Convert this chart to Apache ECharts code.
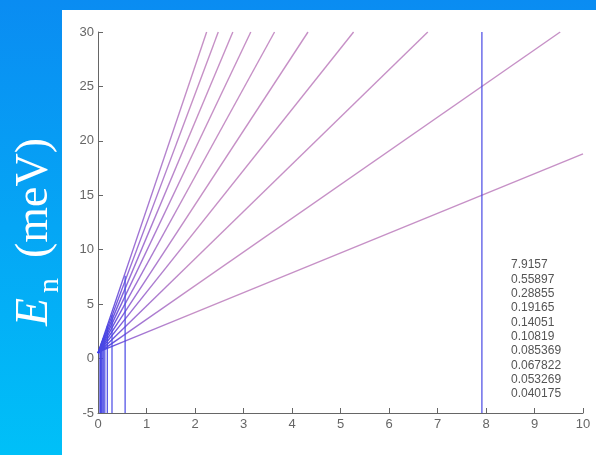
<!DOCTYPE html>
<html>
<head>
<meta charset="UTF-8">
<title>En (meV)</title>
<script src="https://cdn.jsdelivr.net/npm/echarts@6/dist/echarts.min.js"></script>
<style>
body{margin:0;padding:0;}
#main{width:596px;height:455px;}
</style>
</head>
<body>
<div id="main"></div>
<script>
// each level: starts near x=0, runs up to the top of the plot (the lowest one stops at x=10)
var levelStartY = [0.6, 0.5, 0.5, 0.5, 0.5, 0.5, 0.5, 0.5, 0.5, 0.5];
var levelEndX = [10, 9.53, 6.8, 5.27, 4.33, 3.64, 3.15, 2.78, 2.48, 2.24];
var levelEndY = [18.8, 30, 30, 30, 30, 30, 30, 30, 30, 30];
// vertical markers, and how high each one goes
var markX = [7.9157, 0.55897, 0.28855, 0.19165, 0.14051, 0.10819, 0.085369, 0.067822, 0.053269, 0.040175];
var markTop = [30, 7.6, 4.0, 3.0, 2.3, 1.9, 1.6, 1.4, 1.2, 1.0];
var yMin = -5, yMax = 30, yStep = 5;
var xMin = 0, xMax = 10, xStep = 1;

var myChart = echarts.init(document.getElementById('main'));

var series = [];
// blue near the origin, pinkish purple further out
var lvlColor = new echarts.graphic.LinearGradient(98, 0, 190, 0, [
    {offset: 0, color: '#3b3be6'},
    {offset: 0.35, color: '#9a6ed6'},
    {offset: 1, color: '#c690c6'}
], true);
for (var i = 0; i < levelEndX.length; i++) {
    series.push({
        type: 'line',
        symbol: 'none',
        silent: true,
        lineStyle: {color: lvlColor, width: 1.4},
        data: [[xMin, levelStartY[i]], [levelEndX[i], levelEndY[i]]]
    });
}
for (var j = 0; j < markX.length; j++) {
    series.push({
        type: 'line',
        symbol: 'none',
        silent: true,
        lineStyle: {color: '#4848e4', width: 1.2},
        data: [[markX[j], yMin], [markX[j], markTop[j]]]
    });
}

myChart.setOption({
    animation: false,
    backgroundColor: new echarts.graphic.LinearGradient(0, 0, 0, 1, [
        {offset: 0, color: '#0a8cf2'},
        {offset: 1, color: '#00c0f8'}
    ]),
    graphic: [
        {
            type: 'rect', z: -10, silent: true,
            shape: {x: 62, y: 10, width: 534, height: 445},
            style: {fill: '#ffffff'}
        },
        {
            type: 'group', x: 48, y: 326, rotation: Math.PI / 2,
            children: [
                {type: 'text', x: 0, y: 10, style: {text: 'E', fill: '#fff', font: 'italic 46px "Liberation Serif"', verticalAlign: 'bottom'}},
                {type: 'text', x: 33, y: 17, style: {text: 'n', fill: '#fff', font: '30px "Liberation Serif"', verticalAlign: 'bottom'}},
                {type: 'text', x: 68, y: 10, style: {text: '(meV)', fill: '#fff', font: '46px "Liberation Serif"', verticalAlign: 'bottom'}}
            ]
        },
        {
            type: 'text', left: 511, top: 258, silent: true,
            style: {
                text: markX.map(String).join('\n'),
                fill: '#555', font: '12px "Liberation Sans"', lineHeight: 14.3
            }
        }
    ],
    grid: {left: 98, right: 13, top: 32, bottom: 42, containLabel: false},
    xAxis: {
        type: 'value', min: xMin, max: xMax, interval: xStep,
        axisLine: {onZero: false, lineStyle: {color: '#666'}},
        axisTick: {inside: true, length: 5, lineStyle: {color: '#666'}},
        axisLabel: {color: '#666', fontSize: 13, fontFamily: 'Liberation Sans', margin: 5},
        splitLine: {show: false}
    },
    yAxis: {
        type: 'value', min: yMin, max: yMax, interval: yStep,
        axisLine: {show: true, onZero: false, lineStyle: {color: '#666'}},
        axisTick: {show: true, inside: true, length: 5, lineStyle: {color: '#666'}},
        axisLabel: {color: '#666', fontSize: 13, fontFamily: 'Liberation Sans', margin: 4},
        splitLine: {show: false}
    },
    series: series
});
</script>
</body>
</html>
